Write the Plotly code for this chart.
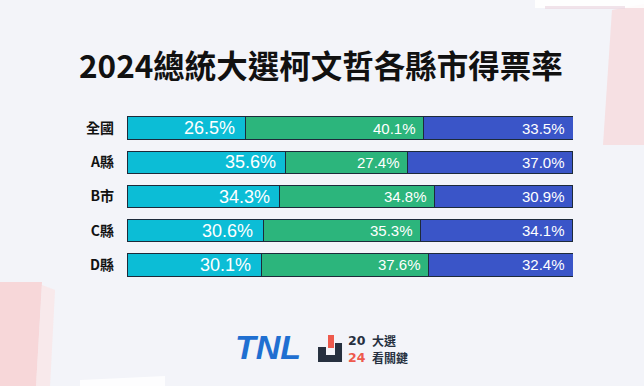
import plotly.graph_objects as go

categories = ["全國", "A縣", "B市", "C縣", "D縣"]
ko_share = [26.5, 35.6, 34.3, 30.6, 30.1]      # cyan
lai_share = [40.1, 27.4, 34.8, 35.3, 37.6]     # green
hou_share = [33.5, 37.0, 30.9, 34.1, 32.4]     # blue
title_text = "2024總統大選柯文哲各縣市得票率"

colors = ["#0cbdd6", "#2cb57c", "#3a55c8"]
series = [ko_share, lai_share, hou_share]
label_sizes = [18, 15, 15]
label_gaps = [-8, -6, -6]

W, H = 644, 386
ML, MR, MT, MB = 127, 71, 111, 104

fig = go.Figure()
for vals, col in zip(series, colors):
    fig.add_trace(go.Bar(
        y=categories, x=vals, orientation="h",
        marker=dict(color=col, line=dict(color="#1d2a3a", width=1)),
        hoverinfo="skip", showlegend=False,
    ))

# value labels, right-aligned inside each segment
cum = [0.0] * len(categories)
for vals, sz, gap in zip(series, label_sizes, label_gaps):
    for i, (cat, v) in enumerate(zip(categories, vals)):
        cum[i] += v
        fig.add_annotation(x=cum[i], y=cat, xref="x", yref="y", text=f"{v:.1f}%",
                           xanchor="right", yanchor="middle", xshift=gap, showarrow=False,
                           font=dict(size=sz, color="white",
                                     family="Liberation Sans, Arial, sans-serif"))

fig.update_layout(
    width=W, height=H,
    barmode="stack", bargap=0.34,
    paper_bgcolor="#f3f4f9", plot_bgcolor="rgba(0,0,0,0)",
    margin=dict(l=ML, r=MR, t=MT, b=MB),
    xaxis=dict(visible=False, range=[0, 100.1], fixedrange=True),
    yaxis=dict(autorange="reversed", showgrid=False, zeroline=False, showline=False,
               ticks="", ticklabelstandoff=12, fixedrange=True,
               tickfont=dict(size=14, color="#111111", weight="bold",
                             family="Noto Sans CJK TC, sans-serif")),
    font=dict(family="Noto Sans CJK TC, sans-serif"),
)


def px_x(x):  # pixel -> paper
    return (x - ML) / (W - ML - MR)


def px_y(y):
    return 1 - (y - MT) / (H - MT - MB)


def note(text, x, y, size, color, family, xanchor="center", weight="normal"):
    fig.add_annotation(text=text, x=px_x(x), y=px_y(y), xref="paper", yref="paper",
                       xanchor=xanchor, yanchor="middle", showarrow=False, borderpad=0,
                       font=dict(size=size, color=color, family=family, weight=weight))


def poly(points, color):
    p = "M " + " L ".join(f"{px_x(x):.4f} {px_y(y):.4f}" for x, y in points) + " Z"
    fig.add_shape(type="path", xref="paper", yref="paper", path=p,
                  fillcolor=color, line=dict(width=0), layer="below")


# title
note(title_text, 321, 64, 31.5, "#111111", "Noto Sans CJK TC, sans-serif", weight="bold")

# decorative translucent shapes
poly([(612, 10), (644, 4), (644, 145), (603, 145)], "rgba(250,200,200,0.45)")
poly([(535, 0), (644, 0), (644, 8), (535, 8)], "rgba(255,255,255,0.85)")
poly([(545, 6), (625, 6), (625, 9), (545, 9)], "rgba(235,215,225,0.7)")
poly([(0, 282), (42, 282), (36, 386), (0, 386)], "rgba(250,195,195,0.6)")
poly([(42, 285), (55, 290), (50, 386), (36, 386)], "rgba(252,225,225,0.6)")
poly([(80, 380), (165, 376), (165, 386), (80, 386)], "rgba(255,255,255,0.8)")

# logos
note("<i>TNL</i>", 268, 347, 34, "#1f6fd1", "Liberation Sans, Arial, sans-serif", weight="bold")
poly([(318, 347), (326, 347), (326, 355), (335, 355), (335, 343), (342, 343),
      (342, 362), (318, 362)], "#26303f")
poly([(328, 335), (334, 335), (334, 348), (328, 348)], "#ee5a4d")
note("20", 347, 340.5, 12.5, "#26303f", "DejaVu Sans, sans-serif", xanchor="left", weight="bold")
note("24", 347, 357, 12.5, "#ee5a4d", "DejaVu Sans, sans-serif", xanchor="left", weight="bold")
note("大選", 371, 340.5, 12, "#26303f", "Noto Sans CJK TC, sans-serif", xanchor="left",
     weight="bold")
note("看關鍵", 371, 357, 12, "#26303f", "Noto Sans CJK TC, sans-serif", xanchor="left",
     weight="bold")

fig.write_html("out.html", post_script="document.body.style.margin='0px';",
               config={"displayModeBar": False})
